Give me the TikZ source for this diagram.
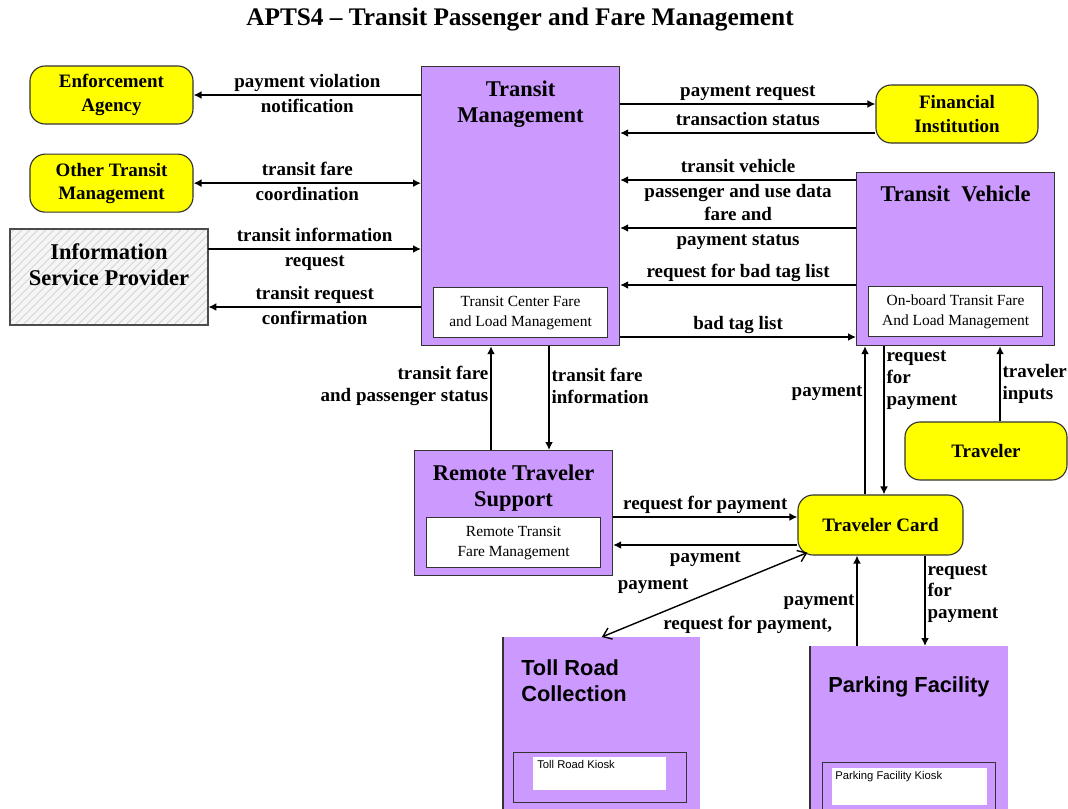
\documentclass[tikz,border=0pt]{standalone}
\usepackage{fontspec}
\setmainfont{Liberation Serif}
\setsansfont{Liberation Sans}
\usetikzlibrary{positioning,arrows.meta,patterns.meta}
\usepackage{xcolor}
\definecolor{lavender}{HTML}{CC99FF}
\definecolor{termyellow}{HTML}{FFFF00}

\begin{document}
\begin{tikzpicture}[
    x=0.025cm, y=-0.025cm,
    >={Latex[length=2mm,width=2mm]},
    lbl/.style={font=\fontsize{13.5}{15.5}\selectfont\bfseries, inner sep=1.2pt},
    hlbl/.style={lbl, text height=9.5pt, text depth=3pt, inner sep=2pt},
    term/.style={
        rectangle, draw=black!80, line width=0.8pt, rounded corners=3.8mm,
        fill=termyellow, align=center, minimum width=40.75mm, minimum height=14.5mm,
        font=\fontsize{13.5}{16.5}\selectfont\bfseries
    },
    box/.style={
        rectangle, draw=black!80, line width=0.8pt, fill=lavender,
        minimum width=49.5mm, anchor=north west
    },
    boxtitle/.style={font=\fontsize{16}{18.5}\selectfont\bfseries, align=center, inner sep=0pt},
    inbox/.style={
        rectangle, draw=black!80, line width=0.6pt, fill=white, align=center,
        minimum width=43.5mm, minimum height=12.5mm, font=\fontsize{11}{14}\selectfont
    },
    sidebox/.style={rectangle, fill=lavender, minimum width=49.5mm, anchor=north west},
    sidetitle/.style={font=\sffamily\fontsize{15.5}{18.5}\selectfont\bfseries, inner sep=0pt},
    kioskbox/.style={rectangle, draw=black!80, line width=0.6pt, anchor=north west,
        minimum width=43.25mm, minimum height=12.5mm},
    kiosk/.style={rectangle, fill=white, anchor=north west},
    kiosktext/.style={font=\sffamily\fontsize{8}{9}\selectfont, inner sep=0pt, anchor=north west},
    arrow/.style={->, line width=1.3pt},
    dblarrow/.style={<->, line width=1.3pt},
    diag/.style={{Straight Barb[length=2mm,width=3mm]}-{Straight Barb[length=2mm,width=3mm]}, line width=1pt}
]
\path[use as bounding box, fill=white] (0,0) rectangle (1068,809);

\node[font=\fontsize{18}{20}\selectfont\bfseries] (title) at (520,20)
    {APTS4 – Transit Passenger and Fare Management};

\node[term] (ea) at (111.5,95) {Enforcement\\Agency};
\node[term, below=7.25mm of ea] (otm) {Other Transit\\Management};
\node[rectangle, draw=black!70, line width=0.8pt, minimum width=49.5mm, minimum height=24mm,
      preaction={fill=gray!8}, pattern={Lines[angle=45,distance=4pt,line width=0.5pt]},
      pattern color=gray!45] (isp) at (109,277) {};
\node[boxtitle, below=3.75mm of isp.north] (isp-t) {Information\\Service Provider};

\node[box, minimum height=69.75mm] (tm) at (421,66) {};
\node[boxtitle, below=3.7mm of tm.north] (tm-t) {Transit\\Management};
\node[inbox, above=2mm of tm.south] (tcfl) {Transit Center Fare\\and Load Management};

\node[term, minimum width=40.5mm] (fi) at (957,114) {Financial\\Institution};

\node[box, minimum height=43.25mm] (tv) at (856,172) {};
\node[boxtitle, below=3.5mm of tv.north] (tv-t) {Transit~ Vehicle};
\node[inbox, above=2.25mm of tv.south] (obtf) {On-board Transit Fare\\And Load Management};

\node[term, minimum width=40.5mm] (trav) at (986,451) {Traveler};

\node[box, minimum height=31.25mm] (rts) at (414,450) {};
\node[boxtitle, below=3.75mm of rts.north] (rts-t) {Remote Traveler\\Support};
\node[inbox, above=2mm of rts.south] (rtfm) {Remote Transit\\Fare Management};

\node[term, minimum width=41.25mm, minimum height=15mm] (tc) at (880.5,525) {Traveler Card};

\node[sidebox, minimum width=49.25mm, minimum height=45mm] (trc) at (503,637) {};
\draw[line width=0.8pt, black!80] (trc.north west) -- (trc.south west);
\node[sidetitle, anchor=north west, align=left] (trc-t) at (521,659) {Toll Road\\Collection};
\node[kioskbox] (trk-o) at (513,752) {};
\node[kiosk, minimum width=33.25mm, minimum height=8.25mm] (trk) at (533,757) {};
\node[kiosktext] (trk-t) at (537,760) {Toll Road Kiosk};

\node[sidebox, minimum height=42.5mm] (pf) at (810,646) {};
\draw[line width=0.8pt, black!80] (pf.north west) -- (pf.south west);
\node[sidetitle] (pf-t) at (909,687) {Parking Facility};
\node[kioskbox] (pfk-o) at (822,762) {};
\node[kiosk, minimum width=38.75mm, minimum height=9.25mm] (pfk) at (832,768) {};
\node[kiosktext] (pfk-t) at (835,771) {Parking Facility Kiosk};

\draw[arrow] (tm.west |- ea) -- (ea.east)
    node[hlbl, midway, above] (pvn-a) {payment violation}
    node[hlbl, midway, below] (pvn-b) {notification};
\draw[dblarrow] (tm.west |- otm) -- (otm.east)
    node[hlbl, midway, above] (tfc-a) {transit fare}
    node[hlbl, midway, below] (tfc-b) {coordination};
\draw[arrow] (isp.east |- 0,249) -- (tm.west |- 0,249)
    node[hlbl, midway, above] (tir-a) {transit information}
    node[hlbl, midway, below] (tir-b) {request};
\draw[arrow] (tm.west |- 0,307) -- (isp.east |- 0,307)
    node[hlbl, midway, above] (trcf-a) {transit request}
    node[hlbl, midway, below] (trcf-b) {confirmation};

\draw[arrow] (tm.east |- 0,104) -- (fi.west |- 0,104)
    node[hlbl, midway, above] (pr) {payment request};
\draw[arrow] (fi.west |- 0,133) -- (tm.east |- 0,133)
    node[hlbl, midway, above] (ts) {transaction status};
\draw[arrow] (tv.west |- 0,180) -- (tm.east |- 0,180)
    node[hlbl, midway, above] (tvp-a) {transit vehicle}
    node[hlbl, midway, below] (tvp-b) {passenger and use data};
\draw[arrow] (tv.west |- 0,228) -- (tm.east |- 0,228)
    node[hlbl, midway, above] (fps-a) {fare and}
    node[hlbl, midway, below] (fps-b) {payment status};
\draw[arrow] (tv.west |- 0,285) -- (tm.east |- 0,285)
    node[hlbl, midway, above] (rbt) {request for bad tag list};
\draw[arrow] (tm.east |- 0,337) -- (tv.west |- 0,337)
    node[hlbl, midway, above] (btl) {bad tag list};

\draw[arrow] (491,0 |- rts.north) -- (491,0 |- tm.south)
    node[lbl, pos=0.62, left, align=right] (tfps) {transit fare\\and passenger status};
\draw[arrow] (549,0 |- tm.south) -- (549,0 |- rts.north)
    node[lbl, pos=0.38, right, align=left] (tfi) {transit fare\\information};

\draw[arrow] (865,0 |- tc.north) -- (865,0 |- tv.south)
    node[lbl, pos=0.68, left] (tcp) {payment};
\draw[arrow] (884,0 |- tv.south) -- (884,0 |- tc.north)
    node[lbl, pos=0.23, right, align=left] (tcr) {request\\for\\payment};
\draw[arrow] (1000,0 |- trav.north) -- (1000,0 |- tv.south)
    node[lbl, midway, right, align=left] (ti) {traveler\\inputs};

\draw[arrow] (rts.east |- 0,517) -- (tc.west |- 0,517)
    node[hlbl, midway, above] (rfp) {request for payment};
\draw[arrow] (tc.west |- 0,545) -- (rts.east |- 0,545)
    node[hlbl, midway, below] (rp) {payment};

\draw[diag] ([xshift=2.5mm,yshift=0.75mm]tc.south west) -- (trc.north)
    node[lbl, pos=0.75, yshift=7.5mm] (dp) {payment}
    node[lbl, pos=0.29, yshift=-12mm] (drp) {request for payment,};

\draw[arrow] (857,0 |- pf.north) -- (857,0 |- tc.south)
    node[lbl, pos=0.48, left] (pp) {payment};
\draw[arrow] (925,0 |- tc.south) -- (925,0 |- pf.north)
    node[lbl, pos=0.42, right, align=left] (prq) {request\\for\\payment};
\end{tikzpicture}
\end{document}
